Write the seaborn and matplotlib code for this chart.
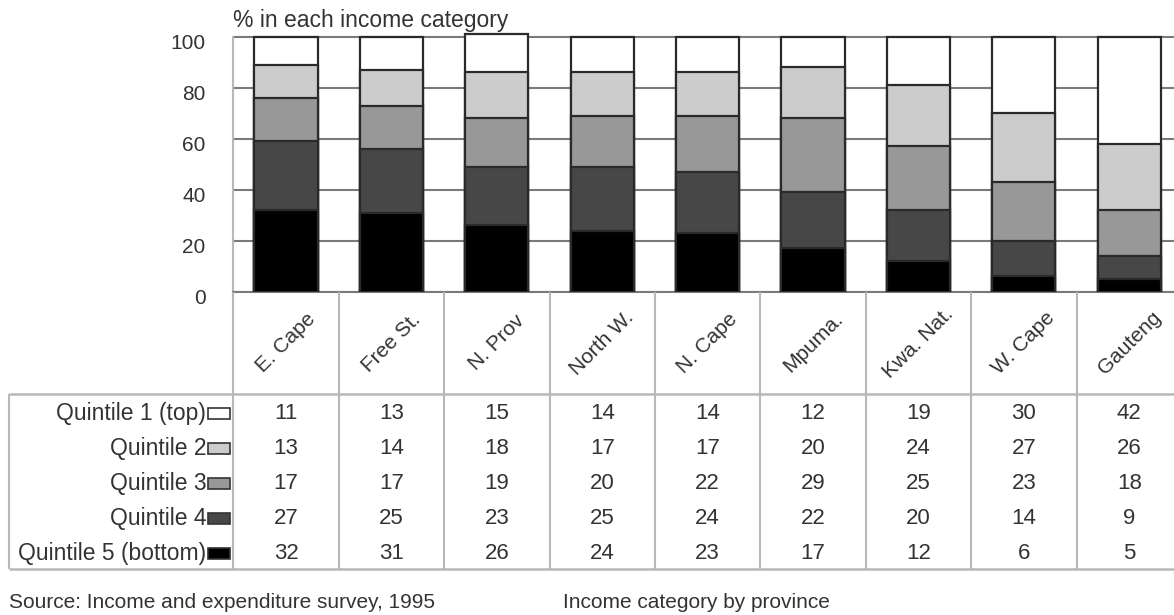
import numpy as np
import pandas as pd
import matplotlib
matplotlib.use("Agg")
import matplotlib.pyplot as plt
import matplotlib.transforms as mtransforms
from matplotlib.patches import Rectangle
import seaborn as sns

# ---- data -------------------------------------------------------------
provinces = ["E. Cape", "Free St.", "N. Prov", "North W.", "N. Cape",
             "Mpuma.", "Kwa. Nat.", "W. Cape", "Gauteng"]
quintiles = ["Quintile 1 (top)", "Quintile 2", "Quintile 3",
             "Quintile 4", "Quintile 5 (bottom)"]
q1_top = [11, 13, 15, 14, 14, 12, 19, 30, 42]
q2 = [13, 14, 18, 17, 17, 20, 24, 27, 26]
q3 = [17, 17, 19, 20, 22, 29, 25, 23, 18]
q4 = [27, 25, 23, 25, 24, 22, 20, 14, 9]
q5_bottom = [32, 31, 26, 24, 23, 17, 12, 6, 5]
yticks = [0, 20, 40, 60, 80, 100]
title = "% in each income category"
source = "Source: Income and expenditure survey, 1995"
caption = "Income category by province"

# ---- style ------------------------------------------------------------
shades = ["#ffffff", "#cccccc", "#989898", "#474747", "#000000"]
text_col = "#333333"
grid_col = "#7a7a7a"
rule_col = "#b8b8b8"
edge_col = "#2a2a2a"

sns.set_style("white")
plt.rcParams["font.family"] = ["Liberation Sans", "DejaVu Sans"]
FS = 15

W, H = 1174, 615
fig = plt.figure(figsize=(W / 100, H / 100), dpi=100)

# layout in pixels
L = 233.3          # left edge of plot / first column
CW = 105.4         # column width
TOP, BOT = 36.7, 291.7
ROW_TOP, ROW_BOT = 394.0, 569.0
TAB_LEFT = 9.0
ncol = len(provinces)
R = L + ncol * CW
YMAX = 103.0       # a little head-room so the bar tops are not clipped
px_per_unit = (BOT - TOP) / 100.0

# ---- long-form table with cumulative tops ----------------------------
series = [q1_top, q2, q3, q4, q5_bottom]
frames = [pd.DataFrame({"province": provinces, "quintile": name, "value": vals})
          for name, vals in zip(quintiles, series)]
df = pd.concat(frames, ignore_index=True)
df["quintile"] = pd.Categorical(df["quintile"], categories=quintiles[::-1], ordered=True)
df = df.sort_values("quintile", kind="stable")
df["top"] = df.groupby("province")["value"].cumsum()

# ---- stacked bars ------------------------------------------------------
ax_top_px = BOT - YMAX * px_per_unit
ax = fig.add_axes([L / W, 1 - BOT / H, ncol * CW / W, (BOT - ax_top_px) / H])
for name, shade in zip(quintiles, shades):
    sub = df[df["quintile"] == name]
    sns.barplot(data=sub, x="province", y="top", order=provinces, color=shade,
                saturation=1, width=0.6, errorbar=None, edgecolor=edge_col,
                linewidth=1.6, ax=ax, zorder=3)

ax.set_xlim(-0.5, ncol - 0.5)
ax.set_ylim(0, YMAX)
ax.set_yticks(yticks)
ax.set_yticklabels([str(t) for t in yticks], fontsize=FS, color=text_col)
ax.set_xticks([])
ax.set_xlabel("")
ax.set_ylabel("")
ax.tick_params(axis="y", length=0, pad=20)
ax.set_axisbelow(True)
ax.yaxis.grid(True, color=grid_col, linewidth=1.5)
ax.xaxis.grid(False)
for side in ["top", "right"]:
    ax.spines[side].set_visible(False)
ax.spines["left"].set_bounds(0, 100)
ax.spines["left"].set_color(rule_col)
ax.spines["left"].set_linewidth(1.5)
ax.spines["bottom"].set_color(grid_col)
ax.spines["bottom"].set_linewidth(1.5)
shift = mtransforms.ScaledTranslation(0, -0.05, fig.dpi_scale_trans)
for lab in ax.get_yticklabels():
    lab.set_transform(lab.get_transform() + shift)

# ---- data table below the bars ----------------------------------------
tax = fig.add_axes([TAB_LEFT / W, 1 - ROW_BOT / H, (R - TAB_LEFT) / W, (ROW_BOT - BOT) / H])
row_h = (ROW_BOT - ROW_TOP) / len(quintiles)
band_top = (ROW_BOT - BOT) / row_h
x_left = -0.5 - (L - TAB_LEFT) / CW
tax.set_xlim(x_left, ncol - 0.5)
tax.set_ylim(0, band_top)
tax.axis("off")

nrow = len(quintiles)
tax.hlines([0, nrow], x_left, ncol - 0.5, color=rule_col, lw=1.8, clip_on=False)
tax.vlines(x_left, 0, nrow, color=rule_col, lw=1.5, clip_on=False)
tax.vlines(np.arange(ncol + 1) - 0.5, 0, band_top, color=rule_col, lw=1.5, clip_on=False)

band_mid = (nrow + band_top) / 2
for i, prov in enumerate(provinces):
    tax.text(i, band_mid, prov, rotation=45, ha="center", va="center",
             rotation_mode="anchor", fontsize=FS, color=text_col)

label_x = -0.5 - 27 / CW
sw_x0 = -0.5 - 25 / CW
sw_w = 22 / CW
sw_h = 11 / row_h
for r, (name, vals, shade) in enumerate(zip(quintiles, series, shades)):
    y = nrow - 0.5 - r - 0.06
    tax.text(label_x, y, name, ha="right", va="center", fontsize=16.5, color=text_col)
    tax.add_patch(Rectangle((sw_x0, y - sw_h / 2), sw_w, sw_h, facecolor=shade,
                            edgecolor="#333333", lw=1.2, clip_on=False))
    for i, v in enumerate(vals):
        tax.text(i, y, str(v), ha="center", va="center", fontsize=16, color=text_col)

# ---- titles ------------------------------------------------------------
fig.text(L / W, 1 - 21 / H, title, ha="left", va="center", fontsize=16.5, color=text_col)
fig.text(TAB_LEFT / W, 1 - 603 / H, source, ha="left", va="center", fontsize=FS, color=text_col)
fig.text(563 / W, 1 - 603 / H, caption, ha="left", va="center", fontsize=FS, color=text_col)

fig.savefig("out.png", dpi=100, facecolor="white")
